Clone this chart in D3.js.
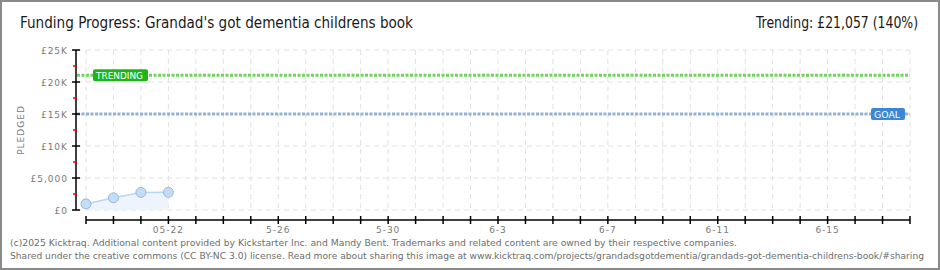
<!DOCTYPE html>
<html>
<head>
<meta charset="utf-8">
<script src="https://cdn.jsdelivr.net/npm/d3@7"></script>
<style>
  body { margin: 0; background: #fff; }
  svg { display: block; }
  .px { font-family: "DejaVu Sans", sans-serif; font-size: 9px; fill: #7a7a7a; letter-spacing: 1px; }
  .foot { font-family: "DejaVu Sans Condensed", sans-serif; font-size: 9.5px; fill: #6e6e6e; }
</style>
</head>
<body>
<div id="chart"></div>
<script>
// data
var days = ["2025-05-19", "2025-05-20", "2025-05-21", "2025-05-22"];
var pledged = [950, 1900, 2750, 2760];
var goal = 15000;
var trending = 21057;
var yTicks = [0, 5000, 10000, 15000, 20000, 25000];
var yTickLabels = ["£0", "£5,000", "£10K", "£15K", "£20K", "£25K"];
var xLabelDays = ["2025-05-22", "2025-05-26", "2025-05-30", "2025-06-03", "2025-06-07", "2025-06-11", "2025-06-15"];
var xLabels = ["05-22", "5-26", "5-30", "6-3", "6-7", "6-11", "6-15"];

var W = 940, H = 270;
var parse = d3.timeParse("%Y-%m-%d");

var svg = d3.select("#chart").append("svg")
  .attr("width", W)
  .attr("height", H);

svg.append("rect")
  .attr("x", 1).attr("y", 1)
  .attr("width", W - 2).attr("height", H - 2)
  .attr("fill", "#fff")
  .attr("stroke", "#8a8a8a")
  .attr("stroke-width", 2);

var x = d3.scaleTime()
  .domain([parse("2025-05-19"), parse("2025-06-18")])
  .range([86, 910]);

var y = d3.scaleLinear()
  .domain([0, 25000])
  .range([210, 50]);

var allDays = d3.timeDay.range(parse("2025-05-19"), d3.timeDay.offset(parse("2025-06-18"), 1));

// grid
svg.append("g").selectAll("line")
  .data(allDays)
  .enter().append("line")
  .attr("x1", function (d) { return x(d); })
  .attr("x2", function (d) { return x(d); })
  .attr("y1", y(25000)).attr("y2", y(0))
  .attr("stroke", "#e2e2e2")
  .attr("stroke-dasharray", "5,4");

svg.append("g").selectAll("line")
  .data(yTicks)
  .enter().append("line")
  .attr("x1", 77).attr("x2", 910)
  .attr("y1", function (d) { return y(d); })
  .attr("y2", function (d) { return y(d); })
  .attr("stroke", "#e2e2e2")
  .attr("stroke-dasharray", "5,4");

// area + line
var pts = days.map(function (d, i) { return {date: parse(d), value: pledged[i]}; });

svg.append("path")
  .datum(pts)
  .attr("fill", "#edf4fc")
  .attr("d", d3.area()
    .x(function (d) { return x(d.date); })
    .y0(y(0))
    .y1(function (d) { return y(d.value); }));

svg.append("path")
  .datum(pts)
  .attr("fill", "none")
  .attr("stroke", "#b9d5f2")
  .attr("stroke-width", 1.5)
  .attr("d", d3.line()
    .x(function (d) { return x(d.date); })
    .y(function (d) { return y(d.value); }));

// goal and trending lines
svg.append("line")
  .attr("x1", 77).attr("x2", 910)
  .attr("y1", y(goal)).attr("y2", y(goal))
  .attr("stroke", "#93b2d9")
  .attr("stroke-width", 3)
  .attr("stroke-dasharray", "3,1.5");

svg.append("line")
  .attr("x1", 77).attr("x2", 910)
  .attr("y1", y(trending)).attr("y2", y(trending))
  .attr("stroke", "#6fd35c")
  .attr("stroke-width", 3)
  .attr("stroke-dasharray", "3,1.5");

svg.selectAll("circle.pt")
  .data(pts)
  .enter().append("circle")
  .attr("class", "pt")
  .attr("cx", function (d) { return x(d.date); })
  .attr("cy", function (d) { return y(d.value); })
  .attr("r", 5)
  .attr("fill", "#c4ddf7")
  .attr("stroke", "#98b8dc")
  .attr("stroke-width", 1);

// badges
function badge(label, cx0, yv, w, fill) {
  var g = svg.append("g");
  g.append("rect")
    .attr("x", cx0).attr("y", y(yv) - 6)
    .attr("width", w).attr("height", 12)
    .attr("rx", 2)
    .attr("fill", fill);
  g.append("text")
    .attr("x", cx0 + 3).attr("y", y(yv) + 3.5)
    .attr("font-family", "DejaVu Sans, sans-serif")
    .attr("font-size", 8.5)
    .attr("fill", "#fff")
    .attr("textLength", w - 8)
    .attr("lengthAdjust", "spacingAndGlyphs")
    .text(label);
}
badge("TRENDING", 93, trending, 55, "#1fb41a");
badge("GOAL", 871, goal, 34, "#3b87d6");

// y axis
svg.append("line")
  .attr("x1", 76).attr("x2", 76)
  .attr("y1", y(25000)).attr("y2", y(0))
  .attr("stroke", "#000").attr("stroke-width", 1.5);

svg.append("g").selectAll("line")
  .data(yTicks)
  .enter().append("line")
  .attr("x1", 72).attr("x2", 80)
  .attr("y1", function (d) { return y(d); })
  .attr("y2", function (d) { return y(d); })
  .attr("stroke", "#000").attr("stroke-width", 1.5);

svg.append("g").selectAll("line")
  .data(yTicks.slice(0, -1))
  .enter().append("line")
  .attr("x1", 73).attr("x2", 77)
  .attr("y1", function (d) { return y(d + 2500); })
  .attr("y2", function (d) { return y(d + 2500); })
  .attr("stroke", "#e00").attr("stroke-width", 1.5);

svg.append("g").selectAll("text")
  .data(yTicks)
  .enter().append("text")
  .attr("class", "px")
  .attr("x", 68)
  .attr("y", function (d) { return y(d) + 3.5; })
  .attr("text-anchor", "end")
  .text(function (d, i) { return yTickLabels[i]; });

svg.append("text")
  .attr("class", "px")
  .attr("transform", "translate(24,130) rotate(-90)")
  .attr("text-anchor", "middle")
  .text("PLEDGED");

// x axis
svg.append("line")
  .attr("x1", 86).attr("x2", 910)
  .attr("y1", 220).attr("y2", 220)
  .attr("stroke", "#000").attr("stroke-width", 1.5);

svg.append("g").selectAll("line")
  .data(allDays)
  .enter().append("line")
  .attr("x1", function (d) { return x(d); })
  .attr("x2", function (d) { return x(d); })
  .attr("y1", 216).attr("y2", 224)
  .attr("stroke", "#000").attr("stroke-width", 1.5);

svg.append("g").selectAll("text")
  .data(xLabelDays)
  .enter().append("text")
  .attr("class", "px")
  .attr("x", function (d) { return x(parse(d)); })
  .attr("y", 233)
  .attr("text-anchor", "middle")
  .text(function (d, i) { return xLabels[i]; });

// title
svg.append("text")
  .attr("x", 20).attr("y", 28)
  .attr("font-family", "DejaVu Sans Condensed, sans-serif")
  .attr("font-size", 15)
  .attr("fill", "#1a1a1a")
  .attr("textLength", 393)
  .attr("lengthAdjust", "spacingAndGlyphs")
  .text("Funding Progress: Grandad's got dementia childrens book");

svg.append("text")
  .attr("x", 918).attr("y", 28)
  .attr("text-anchor", "end")
  .attr("font-family", "DejaVu Sans Condensed, sans-serif")
  .attr("font-size", 15)
  .attr("fill", "#1a1a1a")
  .attr("textLength", 162)
  .attr("lengthAdjust", "spacingAndGlyphs")
  .text("Trending:  £21,057 (140%)");

// footer
svg.append("text")
  .attr("class", "foot")
  .attr("x", 10).attr("y", 246)
  .attr("textLength", 727)
  .attr("lengthAdjust", "spacingAndGlyphs")
  .text("(c)2025 Kicktraq. Additional content provided by Kickstarter Inc. and Mandy Bent. Trademarks and related content are owned by their respective companies.");

svg.append("text")
  .attr("class", "foot")
  .attr("x", 10).attr("y", 259)
  .attr("textLength", 914)
  .attr("lengthAdjust", "spacingAndGlyphs")
  .text("Shared under the creative commons (CC BY-NC 3.0) license. Read more about sharing this image at www.kicktraq.com/projects/grandadsgotdementia/grandads-got-dementia-childrens-book/#sharing");
</script>
</body>
</html>
